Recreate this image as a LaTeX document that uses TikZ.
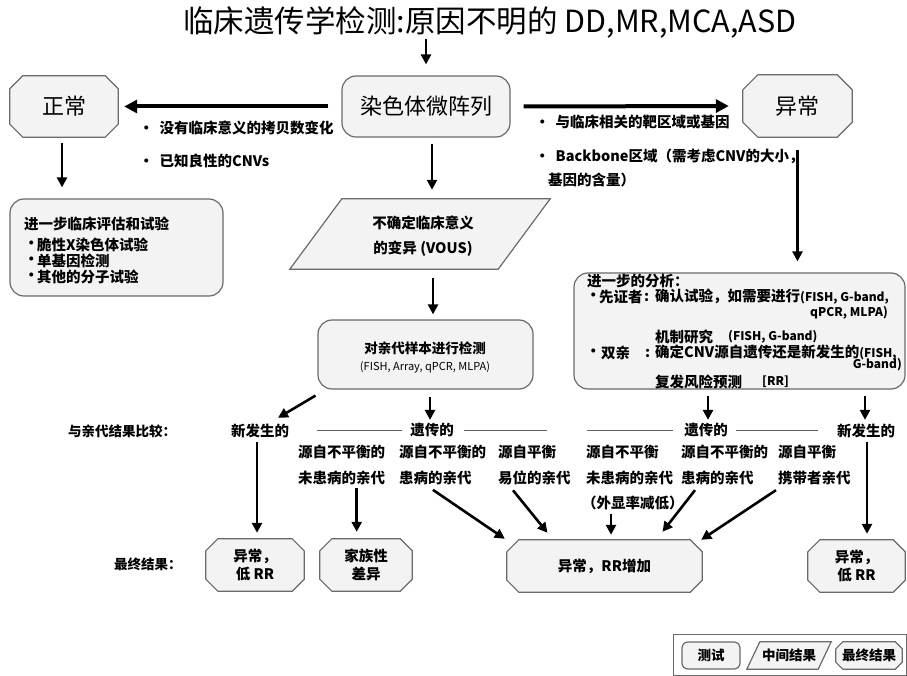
\documentclass[tikz,border=0pt]{standalone}
\usepackage{fontspec}
\setmainfont{Noto Sans CJK SC}
\usetikzlibrary{arrows.meta,backgrounds}
\definecolor{edge}{HTML}{6A6A6A}
\definecolor{boxfill}{HTML}{F3F3F3}
\newcommand\myocto[2]{\draw[edgeline] ([xshift=#2]#1.north west) -- ([xshift=-#2]#1.north east) -- ([yshift=-#2]#1.north east) -- ([yshift=#2]#1.south east) -- ([xshift=-#2]#1.south east) -- ([xshift=#2]#1.south west) -- ([yshift=#2]#1.south west) -- ([yshift=-#2]#1.north west) -- cycle;}
\newcommand\mypara[2]{\draw[edgeline] ([xshift=#2]#1.north west) -- (#1.north east) -- ([xshift=-#2]#1.south east) -- (#1.south west) -- cycle;}
\begin{document}
\begin{tikzpicture}[x=1pt,y=-1pt,
  edgeline/.style={draw=edge, fill=boxfill, line width=1.2pt},
  shp/.style={inner sep=0pt, align=center},
  rbox/.style={edgeline, rounded corners=14pt, inner sep=0pt, align=center},
  arr/.style={-{Triangle[length=10pt,width=10pt]}, line width=2.6pt},
  barr/.style={-{Triangle[length=13pt,width=13pt]}, line width=4pt},
  hline/.style={draw=gray!75!black, line width=1pt},
  t14/.style={font=\fontsize{14.5}{16}\selectfont\bfseries, inner sep=0pt},
  lat/.style={font=\fontsize{12}{14}\selectfont\bfseries, inner sep=0pt}]
\useasboundingbox (0,0) rectangle (907,676);

% title
\node[font=\fontsize{30.5}{32}\selectfont, inner sep=0pt] (title) at (490,22) {临床遗传学检测:原因不明的 DD,MR,MCA,ASD};

% main shapes
\node[rbox, minimum width=168pt, minimum height=61pt, font=\fontsize{22}{24}\selectfont] (main) at (426,106.5) {染色体微阵列};
\node[shp, minimum width=108pt, minimum height=61pt, font=\fontsize{22}{24}\selectfont] (normal) at (64,106.5) {正常};
\node[shp, minimum width=109pt, minimum height=62pt, font=\fontsize{22}{24}\selectfont] (abn) at (797.5,106) {异常};
\node[rbox, minimum width=213pt, minimum height=97pt] (lbox) at (116.5,247.5) {};
\node[shp, minimum width=260pt, minimum height=70pt] (vous) at (420,234) {};
\node[rbox, minimum width=215pt, minimum height=69pt] (par) at (425.5,354.5) {};
\node[rbox, minimum width=331pt, minimum height=116pt] (rbx) at (739.5,331) {};

% final result shapes
\node[shp, minimum width=98pt, minimum height=52pt, font=\fontsize{14.5}{18}\selectfont\bfseries] (ab1) at (255,565) {异常，\\低 RR};
\node[shp, minimum width=92pt, minimum height=52pt, font=\fontsize{14.5}{18}\selectfont\bfseries] (fam) at (366,565) {家族性\\差异};
\node[shp, minimum width=195pt, minimum height=52pt, font=\fontsize{14.5}{18}\selectfont\bfseries] (inc) at (604.5,566) {异常，RR增加};
\node[shp, minimum width=97pt, minimum height=52pt, font=\fontsize{14.5}{18}\selectfont\bfseries] (ab2) at (856.5,566) {异常，\\低 RR};

% legend
\node[draw=edge, line width=1pt, minimum width=233pt, minimum height=41pt, inner sep=0pt] (legend) at (789.5,654.5) {};
\node[rbox, rounded corners=6pt, minimum width=58pt, minimum height=27pt, font=\fontsize{13.5}{15}\selectfont\bfseries] (lt) at (711,655.5) {测试};
\node[shp, minimum width=84pt, minimum height=27pt, font=\fontsize{13.5}{15}\selectfont\bfseries] (lm) at (789,655.5) {中间结果};
\node[shp, minimum width=66pt, minimum height=27pt, font=\fontsize{13.5}{15}\selectfont\bfseries] (lf) at (869,655.5) {最终结果};

\begin{scope}[on background layer]
\myocto{normal}{13pt}
\myocto{abn}{15pt}
\mypara{vous}{52pt}
\myocto{ab1}{12pt}
\myocto{fam}{12pt}
\myocto{inc}{12pt}
\myocto{ab2}{12pt}
\mypara{lm}{13pt}
\myocto{lf}{7pt}
\end{scope}

% texts top
\node[t14, anchor=west] (n1) at (139,128) {·\hspace{6pt}没有临床意义的拷贝数变化};
\node[t14, anchor=west] (n2) at (139,161) {·\hspace{6pt}已知良性的CNVs};
\node[t14, anchor=west] (a1) at (535,122) {·\hspace{6pt}与临床相关的靶区域或基因};
\node[t14, anchor=west] (a2) at (535,156) {·\hspace{6pt}Backbone区域（需考虑CNV的大小，};
\node[t14, anchor=west] (a3) at (548,180) {基因的含量）};

% left box text
\node[t14, anchor=west] (l1) at (24,224) {进一步临床评估和试验};
\node[t14, anchor=west] (l2b) at (24,245) {·};
\node[t14, anchor=west] (l2) at (37,245) {脆性X染色体试验};
\node[t14, anchor=west] (l3b) at (24,261) {·};
\node[t14, anchor=west] (l3) at (37,261) {单基因检测};
\node[t14, anchor=west] (l4b) at (24,277) {·};
\node[t14, anchor=west] (l4) at (37,277) {其他的分子试验};

% vous text
\node[t14] (v1) at (423,223) {不确定临床意义};
\node[t14] (v2) at (423,249) {的变异 (VOUS)};

% parent test text
\node[font=\fontsize{13.5}{15}\selectfont\bfseries, inner sep=0pt] (p1) at (425,348) {对亲代样本进行检测};
\node[font=\fontsize{11}{13}\selectfont, inner sep=0pt] (p2) at (425,367) {(FISH, Array, qPCR, MLPA)};

% right box text
\node[t14, anchor=west] (r1) at (587,281) {进一步的分析：};
\node[t14, anchor=west] (r2a) at (586,297) {·};
\node[t14, anchor=west] (r2b) at (599,297) {先证者};
\node[t14, anchor=west] (r2c) at (644,297) {:};
\node[t14, anchor=west] (r2d) at (655,297) {确认试验，如需要进行{\fontsize{12}{14}\selectfont(FISH, G-band,}};
\node[lat, anchor=east] (r3) at (888,313) {qPCR, MLPA)};
\node[t14, anchor=west] (r4a) at (655,337) {机制研究};
\node[lat, anchor=west] (r4b) at (728,337) {(FISH, G-band)};
\node[t14, anchor=west] (r5a) at (586,353) {·};
\node[t14, anchor=west] (r5b) at (601,353) {双亲};
\node[t14, anchor=west] (r5c) at (645,353) {:};
\node[t14, anchor=west] (r5d) at (655,353) {确定CNV源自遗传还是新发生的{\fontsize{12}{14}\selectfont(FISH,}};
\node[lat, anchor=east] (r6) at (902,365) {G-band)};
\node[t14, anchor=west] (r7a) at (655,382) {复发风险预测};
\node[lat, anchor=west] (r7b) at (762,382) {[RR]};

% compare row
\node[font=\fontsize{13.5}{15}\selectfont\bfseries, inner sep=0pt, anchor=west] (cmp) at (68,431) {与亲代结果比较：};
\node[t14] (dn1) at (260,431) {新发生的};
\node[t14] (in1) at (432,430) {遗传的};
\node[t14] (in2) at (706,430) {遗传的};
\node[t14] (dn2) at (866,431) {新发生的};
\node[font=\fontsize{13.5}{15}\selectfont\bfseries, inner sep=0pt, anchor=west] (fin) at (114,564) {最终结果：};

% columns
\node[t14, anchor=west] (c1a) at (298,452) {源自不平衡的};
\node[t14, anchor=west] (c1b) at (298,478) {未患病的亲代};
\node[t14, anchor=west] (c2a) at (399,452) {源自不平衡的};
\node[t14, anchor=west] (c2b) at (399,478) {患病的亲代};
\node[t14, anchor=west] (c3a) at (498,452) {源自平衡};
\node[t14, anchor=west] (c3b) at (498,478) {易位的亲代};
\node[t14, anchor=west] (c4a) at (586,452) {源自不平衡};
\node[t14, anchor=west] (c4b) at (586,478) {未患病的亲代};
\node[t14, anchor=west] (c4c) at (582,503) {（外显率减低）};
\node[t14, anchor=west] (c5a) at (681,452) {源自不平衡的};
\node[t14, anchor=west] (c5b) at (681,478) {患病的亲代};
\node[t14, anchor=west] (c6a) at (778,452) {源自平衡};
\node[t14, anchor=west] (c6b) at (778,478) {携带者亲代};

% lines beside 遗传的
\draw[hline] ([xshift=-8pt]in1.west) -- ++(-85,0);
\draw[hline] ([xshift=10pt]in1.east) -- ++(83,0);
\draw[hline] ([xshift=-11pt]in2.west) -- ++(-86,0);
\draw[hline] ([xshift=8pt]in2.east) -- ++(82,0);

% arrows top
\draw[arr, shorten <=1pt, shorten >=11pt] (main.north |- title.south) -- (main.north);
\draw[barr, shorten <=13pt, shorten >=6pt] (main.west) -- (normal.east);
\draw[barr, shorten <=13pt, shorten >=14pt] (main.east) -- (abn.west);
\draw[arr, shorten <=6pt, shorten >=9pt] ([xshift=6pt]main.south) -- ([xshift=6pt]main.south |- vous.north);
\draw[arr, shorten <=6pt, shorten >=11pt] ([xshift=-2pt]normal.south) -- ([xshift=-2pt]normal.south |- lbox.north);
\draw[arr, shorten <=13pt, shorten >=11pt] (abn.south) -- (abn.south |- rbx.north);
\draw[arr, shorten <=9pt, shorten >=5pt] ([xshift=13pt]vous.south) -- ([xshift=13pt]vous.south |- par.north);

% arrows to compare row
\draw[arr] ([xshift=-110pt,yshift=-6pt]par.south) -- ([xshift=18pt,yshift=6pt]dn1.north);
\draw[arr, shorten <=7pt, shorten >=3pt] ([xshift=4.5pt]par.south) -- ([xshift=-2pt]in1.north);
\draw[arr, shorten <=6pt, shorten >=3pt] ([xshift=-31.5pt]rbx.south) -- ([xshift=2pt]in2.north);
\draw[arr, shorten <=6pt, shorten >=4pt] ([xshift=125.5pt]rbx.south) -- ([xshift=-1pt]dn2.north);

% arrows to final results
\draw[arr, shorten <=4pt, shorten >=6pt] ([xshift=-3pt]dn1.south) -- ([xshift=-3pt]dn1.south |- ab1.north);
\draw[arr, shorten <=3pt, shorten >=7pt] ([xshift=15pt]c1b.south) -- ([xshift=15pt]c1b.south |- fam.north);
\draw[arr, shorten <=3pt] ([xshift=-5pt,yshift=-3pt]c2b.south) -- ([xshift=-2pt,yshift=1pt]inc.north west);
\draw[arr] ([xshift=15pt,yshift=-5pt]c3b.south west) -- ([xshift=-57pt,yshift=7pt]inc.north);
\draw[arr, shorten <=4pt, shorten >=5pt] ([xshift=6.5pt]c4c.south -| inc.north) -- ([xshift=6.5pt]inc.north);
\draw[arr] ([xshift=14pt,yshift=-5pt]c5b.south west) -- ([xshift=58pt,yshift=8pt]inc.north);
\draw[arr] ([xshift=-2pt,yshift=-5pt]c6b.south west) -- ([xshift=-1pt]inc.north east);
\draw[arr, shorten <=4pt, shorten >=6pt] ([xshift=1pt]dn2.south) -- ([xshift=1pt]dn2.south |- ab2.north);
\end{tikzpicture}
\end{document}
